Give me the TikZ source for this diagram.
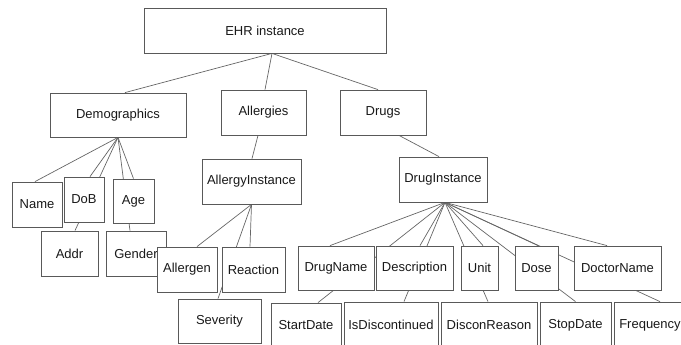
\documentclass[tikz,border=0pt]{standalone}
\usepackage{fontspec}
\setmainfont{Liberation Sans}
\usetikzlibrary{backgrounds}

\tikzset{
  box/.style={draw=black!65, fill=white, line width=0.8pt, inner sep=0pt,
    font=\fontsize{13}{15}\selectfont, text=black!90},
  link/.style={draw=black!60, line width=0.7pt}
}

\begin{document}
\begin{tikzpicture}[x=1pt,y=-1pt]
  \useasboundingbox (0,0) rectangle (681,345);
  \clip (0,0) rectangle (681,345);
  % top levels
  \node[box, minimum width=242, minimum height=45] (ehr) at (265,30.5) {EHR instance};
  \node[box, minimum width=136, minimum height=44] (demo) at (118,115) {Demographics};
  \node[box, minimum width=85, minimum height=45] (allerg) at (263.5,112.5) {Allergies};
  \node[box, minimum width=86, minimum height=45] (drugs) at (383,112.5) {Drugs};
  \node[box, minimum width=99, minimum height=45] (ainst) at (251.5,181.5) {AllergyInstance};
  \node[box, minimum width=88, minimum height=45] (dinst) at (443,179.5) {DrugInstance};
  % demographics
  \node[box, minimum width=50, minimum height=45] (name) at (37,204.5) {Name};
  \node[box, minimum width=40, minimum height=45] (dob) at (84,199.5) {DoB};
  \node[box, minimum width=41, minimum height=44] (age) at (133.5,201) {Age};
  \node[box, minimum width=57, minimum height=45] (addr) at (69.5,253.5) {Addr};
  \node[box, minimum width=60, minimum height=45] (gender) at (136,253.5) {Gender};
  % allergies
  \node[box, minimum width=60, minimum height=45] (allergen) at (187,269.5) {Allergen};
  \node[box, minimum width=63, minimum height=45] (reaction) at (253.5,269.5) {Reaction};
  \node[box, minimum width=83, minimum height=44] (severity) at (219.5,321) {Severity};
  % drugs
  \node[box, minimum width=76, minimum height=44] (drugname) at (336,268) {DrugName};
  \node[box, minimum width=77, minimum height=44] (desc) at (414.5,268) {Description};
  \node[box, minimum width=37, minimum height=44] (unit) at (479.5,268) {Unit};
  \node[box, minimum width=43, minimum height=44] (dose) at (536.5,268) {Dose};
  \node[box, minimum width=87, minimum height=44] (doctor) at (617.5,268) {DoctorName};
  \node[box, minimum width=70, minimum height=45] (start) at (306,325.5) {StartDate};
  \node[box, minimum width=94, minimum height=46] (isdisc) at (391,325) {IsDiscontinued};
  \node[box, minimum width=96, minimum height=46] (discon) at (489,325) {DisconReason};
  \node[box, minimum width=71, minimum height=46] (stop) at (575.5,325) {StopDate};
  \node[box, minimum width=72, minimum height=46] (freq) at (650,325) {Frequency};

  \begin{scope}[on background layer]
    \draw[link] ([xshift=7]ehr.south) -- ([xshift=7]demo.north);
    \draw[link] ([xshift=7]ehr.south) -- ([xshift=1.5]allerg.north);
    \draw[link] ([xshift=7]ehr.south) -- ([xshift=-5]drugs.north);
    \draw[link] ([xshift=-5.5]allerg.south) -- ([xshift=0.5]ainst.north);
    \draw[link] ([xshift=16]drugs.south) -- ([xshift=-4]dinst.north);
    % demographics fan
    \draw[link] (demo.south) -- ([xshift=-2]name.north);
    \draw[link] (demo.south) -- ([xshift=6]dob.north);
    \draw[link] (demo.south) -- ([xshift=5.5]addr.north);
    \draw[link] (demo.south) -- ([xshift=-6]gender.north);
    \draw[link] (demo.south) -- (age.north);
    % allergy fan
    \draw[link] (ainst.south) -- ([xshift=10]allergen.north);
    \draw[link] (ainst.south) -- ([xshift=-3.5]reaction.north);
    \draw[link] (ainst.south) -- ([xshift=-1.5]severity.north);
    % drug fan
    \draw[link] ([xshift=2]dinst.south) -- ([xshift=-6]drugname.north);
    \draw[link] ([xshift=2]dinst.south) -- ([xshift=12]start.north);
    \draw[link] ([xshift=2]dinst.south) -- ([xshift=5.5]desc.north);
    \draw[link] ([xshift=2]dinst.south) -- ([xshift=13]isdisc.north);
    \draw[link] ([xshift=2]dinst.south) -- ([xshift=3.5]unit.north);
    \draw[link] ([xshift=2]dinst.south) -- ([xshift=-1]discon.north);
    \draw[link] ([xshift=2]dinst.south) -- ([xshift=1.5]dose.north);
    \draw[link] ([xshift=2]dinst.south) -- (stop.north);
    \draw[link] ([xshift=2]dinst.south) -- ([xshift=-10.5]doctor.north);
    \draw[link] ([xshift=2]dinst.south) -- ([xshift=10]freq.north);
  \end{scope}
\end{tikzpicture}
\end{document}
